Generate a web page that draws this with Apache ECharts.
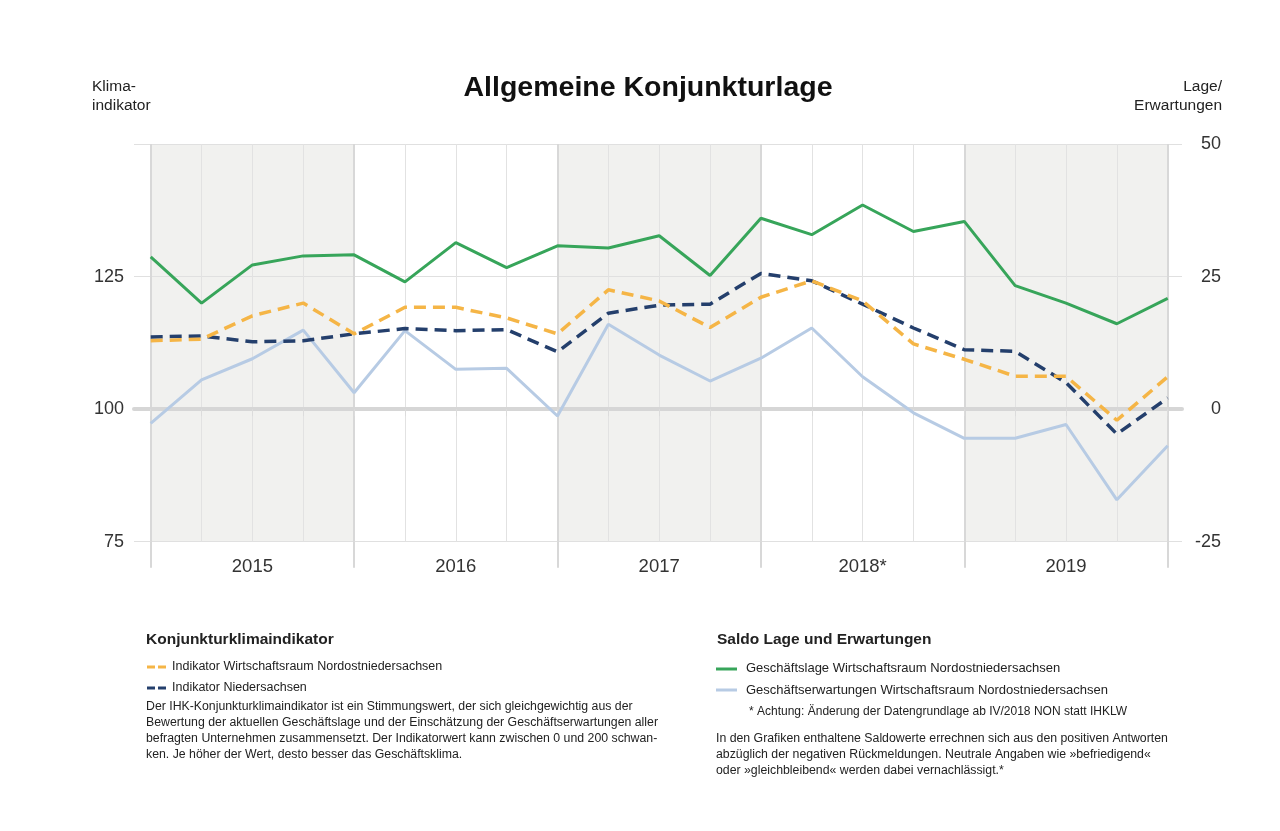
<!DOCTYPE html>
<html>
<head>
<meta charset="utf-8">
<script src="https://cdn.jsdelivr.net/npm/echarts@6/dist/echarts.min.js"></script>
<style>
  html, body { margin: 0; padding: 0; background: #ffffff; }
  #chart { width: 1280px; height: 831px; }
</style>
</head>
<body>
<div id="chart"></div>
<script>
// ---- data ----
const periods = ['2015-1','2015-2','2015-3','2015-4','2016-1','2016-2','2016-3','2016-4','2017-1','2017-2','2017-3','2017-4','2018-1','2018-2','2018-3','2018-4','2019-1','2019-2','2019-3','2019-4','2020-1'];
const yearLabels = ['2015', '2016', '2017', '2018*', '2019'];
const shadedYears = ['2015', '2017', '2019'];
const leftTicks = [75, 100, 125, 150];
const rightTicks = [-25, 0, 25, 50];

// Klimaindikator (left axis)
const indikatorNON = [112.9, 113.2, 117.6, 120.0, 114.2, 119.2, 119.2, 117.2, 114.2, 122.5, 120.4, 115.4, 121.1, 124.2, 120.4, 112.3, 109.4, 106.2, 106.2, 97.9, 106.1];
const indikatorNDS = [113.6, 113.8, 112.7, 112.9, 114.2, 115.2, 114.8, 115.0, 110.8, 118.1, 119.6, 119.8, 125.6, 124.2, 119.8, 115.3, 111.2, 110.9, 105.0, 95.3, 102.1];
// Saldo Lage / Erwartungen (right axis)
const lageNON = [28.7, 20.0, 27.2, 28.9, 29.1, 24.0, 31.4, 26.7, 30.8, 30.4, 32.7, 25.2, 36.0, 32.9, 38.5, 33.5, 35.4, 23.3, 20.0, 16.1, 20.9];
const erwartungenNON = [-2.7, 5.5, 9.5, 14.9, 3.1, 14.8, 7.5, 7.7, -1.3, 16.0, 10.2, 5.3, 9.6, 15.3, 6.1, -0.7, -5.5, -5.5, -2.9, -17.1, -6.9];

// ---- styles ----
const FONT = "'Liberation Sans', Arial, Helvetica, sans-serif";
const C_GREEN = '#37a55a';
const C_LIGHT = '#b7cbe4';
const C_ORANGE = '#f5b546';
const C_DARK = '#243f6c';
const C_TEXT = '#222222';

const chart = echarts.init(document.getElementById('chart'), null, { renderer: 'canvas' });

const shadeAreas = shadedYears.map(y => {
  const i = yearLabels.indexOf(y);
  return [{ xAxis: periods[i * 4] }, { xAxis: periods[i * 4 + 4] }];
});

function yearFormatter(value, index) {
  if (index % 4 === 2) {
    const y = (index - 2) / 4;
    return yearLabels[y] || '';
  }
  return '';
}

const gTop = 144, gBottom = 831 - 541.7;

function txt(x, y, text, size, opts) {
  opts = opts || {};
  return {
    type: 'text',
    silent: true,
    style: {
      text: text, x: x, y: y,
      fontFamily: FONT, fontSize: size, fontWeight: opts.weight || 'normal',
      fill: opts.color || C_TEXT,
      align: opts.align || 'left',
      verticalAlign: opts.valign || 'middle',
      lineHeight: opts.lineHeight || size * 1.2
    }
  };
}

const option = {
  animation: false,
  backgroundColor: '#ffffff',
  grid: [
    { left: 134, right: 98, top: gTop, bottom: gBottom },
    { left: 150.7, right: 112.3, top: gTop, bottom: gBottom }
  ],
  xAxis: [
    {
      gridIndex: 0, type: 'value', min: 0, max: 1, z: 2,
      axisLabel: { show: false }, axisTick: { show: false }, splitLine: { show: false },
      axisLine: { show: true, onZero: true, onZeroAxisIndex: 1, lineStyle: { color: '#d6d6d6', width: 4 } }
    },
    {
      gridIndex: 1, type: 'category', data: periods, boundaryGap: false, position: 'bottom', z: 2,
      axisLine: { show: false },
      axisTick: { show: true, interval: 0, length: 7, lineStyle: { color: '#dcdcdc', width: 1 } },
      splitLine: { show: true, interval: 0, lineStyle: { color: '#e2e2e2', width: 1 } },
      axisLabel: { interval: 0, formatter: yearFormatter, margin: 16, fontSize: 18.5, color: '#333', fontFamily: FONT }
    },
    {
      gridIndex: 1, type: 'category', data: periods, boundaryGap: false, position: 'bottom', z: 2,
      axisLine: { show: false },
      axisTick: { show: true, interval: 3, length: 26, lineStyle: { color: '#d8d8d8', width: 2 } },
      splitLine: { show: true, interval: 3, lineStyle: { color: '#d8d8d8', width: 2 } },
      axisLabel: { show: false }
    }
  ],
  yAxis: [
    {
      gridIndex: 0, type: 'value', position: 'left', min: leftTicks[0], max: leftTicks[leftTicks.length - 1],
      interval: leftTicks[1] - leftTicks[0], z: 2,
      axisLine: { show: false }, axisTick: { show: false },
      splitLine: { show: true, lineStyle: { color: '#e0e0e0', width: 1 } },
      axisLabel: { margin: 10, fontSize: 18, color: '#333', fontFamily: FONT, showMaxLabel: false }
    },
    {
      gridIndex: 0, type: 'value', position: 'right', min: rightTicks[0], max: rightTicks[rightTicks.length - 1],
      interval: rightTicks[1] - rightTicks[0], z: 2,
      axisLine: { show: false }, axisTick: { show: false }, splitLine: { show: false },
      axisLabel: { align: 'right', margin: 39, fontSize: 18, color: '#333', fontFamily: FONT }
    },
    { gridIndex: 1, type: 'value', show: false, min: leftTicks[0], max: leftTicks[leftTicks.length - 1], splitLine: { show: false } },
    { gridIndex: 1, type: 'value', show: false, min: rightTicks[0], max: rightTicks[rightTicks.length - 1], splitLine: { show: false } }
  ],
  series: [
    {
      name: 'Geschäftserwartungen Wirtschaftsraum Nordostniedersachsen',
      type: 'line', xAxisIndex: 1, yAxisIndex: 3, data: erwartungenNON, z: 4,
      symbol: 'none', lineStyle: { color: C_LIGHT, width: 3 },
      markArea: { silent: true, itemStyle: { color: '#f1f1ef' }, data: shadeAreas }
    },
    {
      name: 'Geschäftslage Wirtschaftsraum Nordostniedersachsen',
      type: 'line', xAxisIndex: 1, yAxisIndex: 3, data: lageNON, z: 5,
      symbol: 'none', lineStyle: { color: C_GREEN, width: 3 }
    },
    {
      name: 'Indikator Niedersachsen',
      type: 'line', xAxisIndex: 1, yAxisIndex: 2, data: indikatorNDS, z: 6,
      symbol: 'none', lineStyle: { color: C_DARK, width: 3.5, type: [12, 7] }
    },
    {
      name: 'Indikator Wirtschaftsraum Nordostniedersachsen',
      type: 'line', xAxisIndex: 1, yAxisIndex: 2, data: indikatorNON, z: 7,
      symbol: 'none', lineStyle: { color: C_ORANGE, width: 3.5, type: [12, 7] }
    }
  ],
  graphic: [
    txt(648, 88, 'Allgemeine Konjunkturlage', 28.5, { weight: 'bold', align: 'center', color: '#111' }),
    txt(92, 87, 'Klima-', 15.5),
    txt(92, 106, 'indikator', 15.5),
    txt(1222, 87, 'Lage/', 15.5, { align: 'right' }),
    txt(1222, 106, 'Erwartungen', 15.5, { align: 'right' }),

    // left legend block
    txt(146, 640, 'Konjunkturklimaindikator', 15.5, { weight: 'bold' }),
    { type: 'line', silent: true, shape: { x1: 147, y1: 667, x2: 166, y2: 667 }, style: { stroke: C_ORANGE, lineWidth: 3, lineDash: [8, 3] } },
    txt(172, 667, 'Indikator Wirtschaftsraum Nordostniedersachsen', 12.5),
    { type: 'line', silent: true, shape: { x1: 147, y1: 688, x2: 166, y2: 688 }, style: { stroke: C_DARK, lineWidth: 3, lineDash: [8, 3] } },
    txt(172, 688, 'Indikator Niedersachsen', 12.5),
    txt(146, 699, 'Der IHK-Konjunkturklimaindikator ist ein Stimmungswert, der sich gleichgewichtig aus der\nBewertung der aktuellen Geschäftslage und der Einschätzung der Geschäftserwartungen aller\nbefragten Unternehmen zusammensetzt. Der Indikatorwert kann zwischen 0 und 200 schwan-\nken. Je höher der Wert, desto besser das Geschäftsklima.', 12.3, { valign: 'top', lineHeight: 16 }),

    // right legend block
    txt(717, 640, 'Saldo Lage und Erwartungen', 15.5, { weight: 'bold' }),
    { type: 'line', silent: true, shape: { x1: 716, y1: 669, x2: 737, y2: 669 }, style: { stroke: C_GREEN, lineWidth: 3 } },
    txt(746, 668, 'Geschäftslage Wirtschaftsraum Nordostniedersachsen', 13),
    { type: 'line', silent: true, shape: { x1: 716, y1: 690, x2: 737, y2: 690 }, style: { stroke: C_LIGHT, lineWidth: 3 } },
    txt(746, 690, 'Geschäftserwartungen Wirtschaftsraum Nordostniedersachsen', 13),
    txt(749, 712, '* Achtung: Änderung der Datengrundlage ab IV/2018 NON statt IHKLW', 12),
    txt(716, 731, 'In den Grafiken enthaltene Saldowerte errechnen sich aus den positiven Antworten\nabzüglich der negativen Rückmeldungen. Neutrale Angaben wie »befriedigend«\noder »gleichbleibend« werden dabei vernachlässigt.*', 12.3, { valign: 'top', lineHeight: 16 })
  ]
};

chart.setOption(option);
</script>
</body>
</html>
